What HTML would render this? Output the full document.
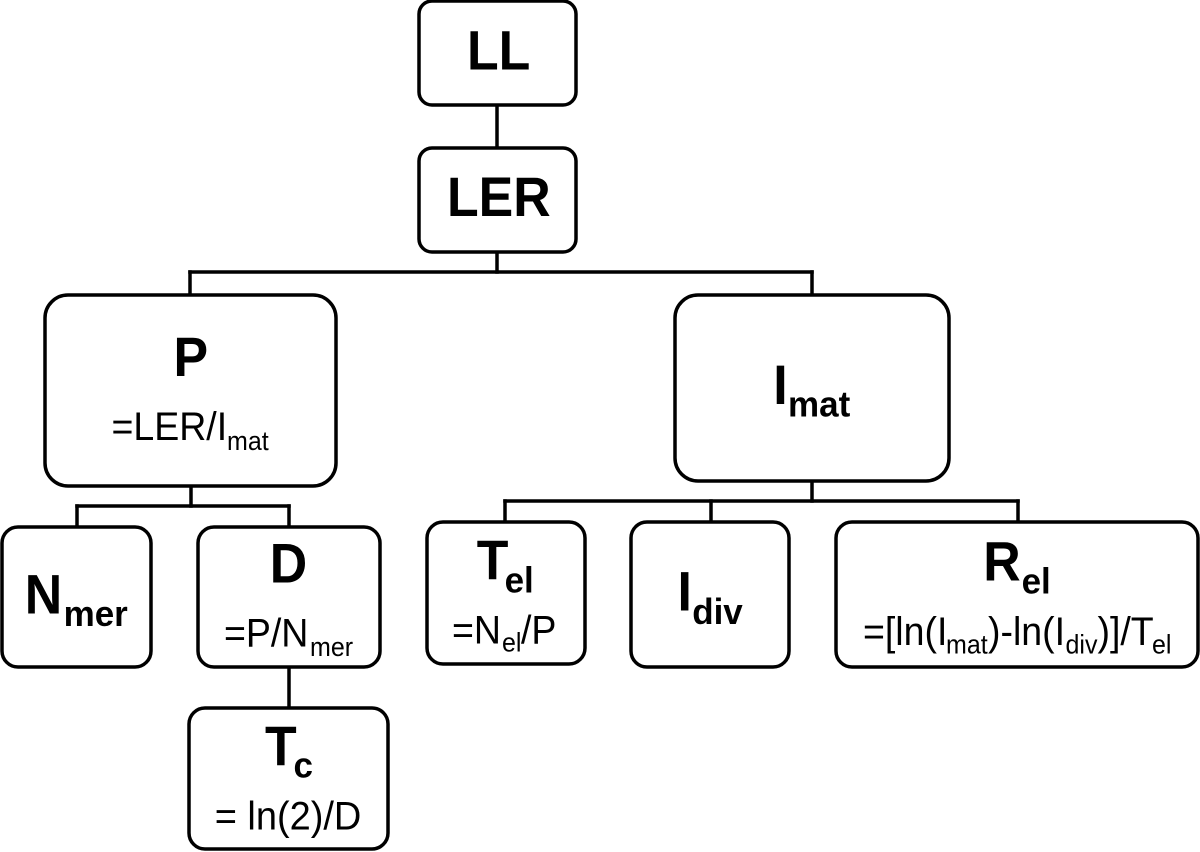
<!DOCTYPE html>
<html>
<head>
<meta charset="utf-8">
<style>
html,body{margin:0;padding:0;background:#fff}
svg{display:block}
text{font-family:"Liberation Sans",Arial,sans-serif;fill:#000;font-kerning:none}
.b{font-weight:bold;font-size:54px}
.bs{font-weight:bold;font-size:35px}
.r{font-size:37.5px}
.rs{font-size:25px}
rect{fill:#fff;stroke:#000;stroke-width:3.5}
line{stroke:#000;stroke-width:3.5;stroke-linecap:square}
</style>
</head>
<body>
<svg width="1200" height="852" viewBox="0 0 1200 852" xmlns="http://www.w3.org/2000/svg">
<line x1="497" y1="105" x2="497" y2="148"/>
<line x1="497" y1="252" x2="497" y2="272"/>
<line x1="190" y1="272" x2="812" y2="272"/>
<line x1="190" y1="272" x2="190" y2="295"/>
<line x1="812" y1="272" x2="812" y2="295"/>
<line x1="191" y1="486" x2="191" y2="506"/>
<line x1="77" y1="506" x2="289" y2="506"/>
<line x1="77" y1="506" x2="77" y2="527"/>
<line x1="289" y1="506" x2="289" y2="527"/>
<line x1="289" y1="667" x2="289" y2="708"/>
<line x1="812" y1="481" x2="812" y2="501"/>
<line x1="505" y1="501" x2="1018" y2="501"/>
<line x1="505" y1="501" x2="505" y2="522"/>
<line x1="711" y1="501" x2="711" y2="522"/>
<line x1="1018" y1="501" x2="1018" y2="522"/>

<rect x="419" y="1" width="157" height="104" rx="13"/>
<rect x="419" y="148" width="157" height="104" rx="13"/>
<rect x="45" y="295" width="291" height="191" rx="23"/>
<rect x="675" y="295" width="274" height="186" rx="23"/>
<rect x="2" y="527" width="149" height="140" rx="16"/>
<rect x="198" y="527" width="182" height="140" rx="16"/>
<rect x="189" y="708" width="199" height="141" rx="16"/>
<rect x="427" y="522" width="158" height="142" rx="16"/>
<rect x="631" y="522" width="158" height="145" rx="16"/>
<rect x="836" y="522" width="362" height="145" rx="16"/>

<text class="b" transform="translate(467,69.3) scale(.96,1.03)">LL</text>
<text class="b" transform="translate(447,216) scale(.96,1.03)">LER</text>

<text class="b" transform="translate(173.5,376) scale(.96,1.03)">P</text>
<text class="r" transform="translate(111.5,440) scale(1,1.06)">=LER/I</text>
<text class="rs" transform="translate(227,450) scale(1,1.06)">mat</text>

<text class="b" transform="translate(773.3,404) scale(.96,1.03)">I</text>
<text class="bs" transform="translate(788,416.7) scale(1,1.03)">mat</text>

<text class="b" transform="translate(24.8,613.3) scale(.96,1.03)">N</text>
<text class="bs" transform="translate(63.6,626) scale(1,1.03)">mer</text>

<text class="b" transform="translate(269.8,582.3) scale(.96,1.03)">D</text>
<text class="r" transform="translate(224,646.7) scale(1,1.06)">=P/N</text>
<text class="rs" transform="translate(310,656) scale(1,1.06)">mer</text>

<text class="b" transform="translate(265,765) scale(.96,1.03)">T</text>
<text class="bs" transform="translate(293.5,777.3) scale(1,1.03)">c</text>
<text class="r" transform="translate(214.7,829.3) scale(1.013,1.06)">= ln(2)/D</text>

<text class="b" transform="translate(476.7,579) scale(.96,1.03)">T</text>
<text class="bs" transform="translate(504.6,592.3) scale(1,1.03)">el</text>
<text class="r" transform="translate(452,643.3) scale(1,1.06)">=N</text>
<text class="rs" transform="translate(502,651.7) scale(1,1.06)">el</text>
<text class="r" transform="translate(521,643.3) scale(1,1.06)">/P</text>

<text class="b" transform="translate(677.5,610.7) scale(.96,1.03)">I</text>
<text class="bs" transform="translate(692.2,624) scale(1,1.03)">div</text>

<text class="b" transform="translate(983.2,580.7) scale(.96,1.03)">R</text>
<text class="bs" transform="translate(1021.6,593.3) scale(1,1.03)">el</text>
<text class="r" transform="translate(863,645) scale(1,1.06)">=[ln(I</text>
<text class="rs" transform="translate(946,653.3) scale(1,1.06)">mat</text>
<text class="r" transform="translate(988,645) scale(1,1.06)">)-ln(I</text>
<text class="rs" transform="translate(1065.5,653.3) scale(1,1.06)">div</text>
<text class="r" transform="translate(1097.5,645) scale(1,1.06)">)]/T</text>
<text class="rs" transform="translate(1152,653.3) scale(1,1.06)">el</text>
</svg>
</body>
</html>
